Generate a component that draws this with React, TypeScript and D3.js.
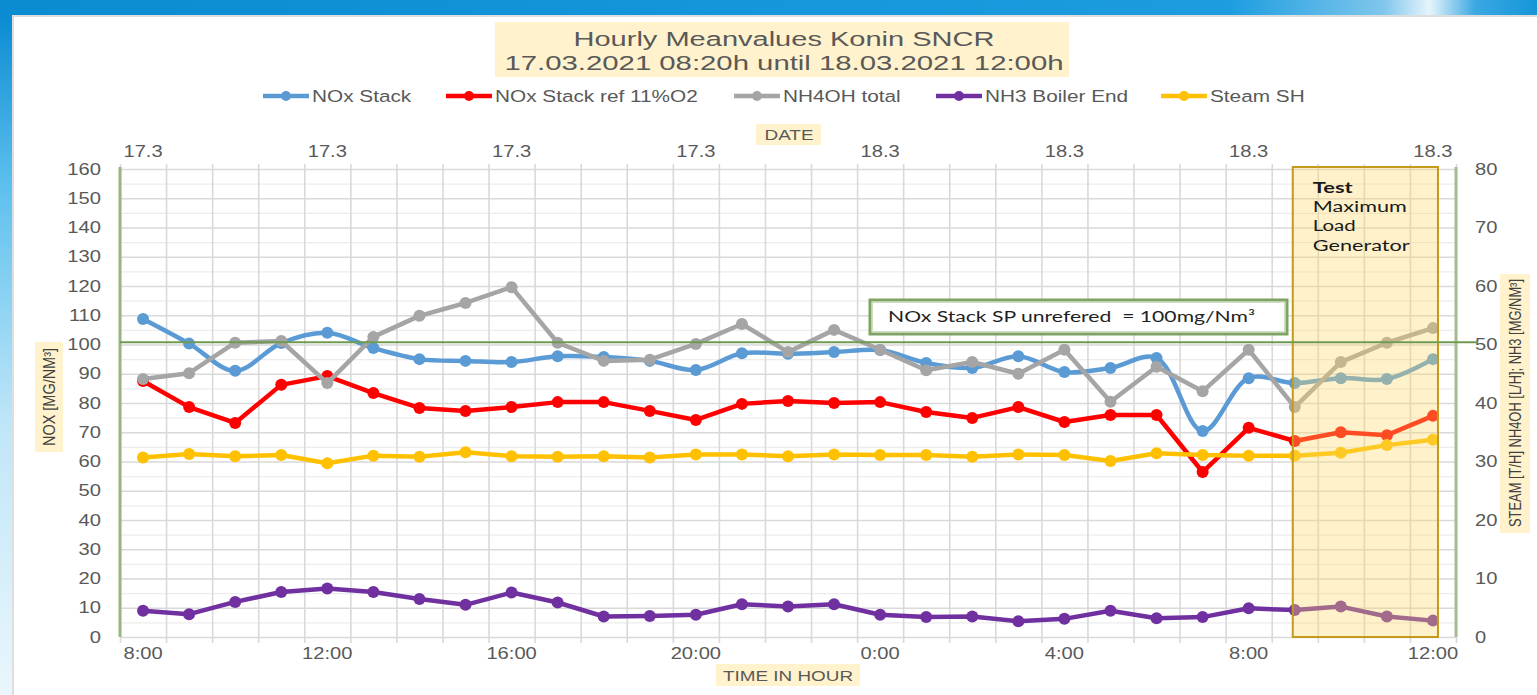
import * as d3 from "d3";
import { useEffect, useRef } from "react";

// categories (hourly, 17.03 08:00 .. 18.03 12:00)
const hours = [
  "8:00", "9:00", "10:00", "11:00", "12:00", "13:00", "14:00", "15:00",
  "16:00", "17:00", "18:00", "19:00", "20:00", "21:00", "22:00", "23:00",
  "0:00", "1:00", "2:00", "3:00", "4:00", "5:00", "6:00", "7:00",
  "8:00", "9:00", "10:00", "11:00", "12:00",
];
const dateLabels = ["17.3", "17.3", "17.3", "17.3", "18.3", "18.3", "18.3", "18.3"];

// left axis series [mg/Nm3]
const noxStack = [
  108.7, 100.3, 91, 100.5, 104, 98.8, 95, 94.4, 94, 96, 95.7, 94.4, 91.3, 97,
  96.8, 97.4, 98.1, 93.7, 92, 96, 90.6, 92, 95.4, 70.4, 88.5, 86.8, 88.5, 88.2, 95,
];
const noxRef = [
  87.5, 78.6, 73.2, 86.2, 89.2, 83.4, 78.3, 77.3, 78.6, 80.3, 80.3, 77.3, 74.2,
  79.7, 80.7, 80, 80.3, 76.9, 74.9, 78.6, 73.5, 75.9, 75.9, 56.4, 71.5, 67, 70, 69, 75.6,
];
// right axis series
const nh4oh = [
  44.1, 45.1, 50.3, 50.6, 43.4, 51.3, 54.9, 57.1, 59.8, 50.3, 47.2, 47.4, 50.1,
  53.5, 48.7, 52.5, 49.1, 45.6, 47, 45, 49.1, 40.2, 46.2, 42, 49.1, 39.3, 47, 50.3, 52.8,
];
const nh3 = [
  4.5, 3.9, 6, 7.7, 8.3, 7.7, 6.5, 5.5, 7.6, 5.9, 3.5, 3.6, 3.8, 5.6, 5.2, 5.6,
  3.8, 3.4, 3.5, 2.7, 3.1, 4.5, 3.2, 3.4, 4.9, 4.6, 5.2, 3.5, 2.8,
];
const steam = [
  30.7, 31.3, 30.9, 31.1, 29.7, 31, 30.8, 31.6, 30.9, 30.8, 30.9, 30.7, 31.2,
  31.2, 30.9, 31.2, 31.1, 31.1, 30.8, 31.2, 31.1, 30.1, 31.4, 31.1, 31, 31, 31.5, 32.8, 33.7,
];

const leftTicks = [0, 10, 20, 30, 40, 50, 60, 70, 80, 90, 100, 110, 120, 130, 140, 150, 160];
const rightTicks = [0, 10, 20, 30, 40, 50, 60, 70, 80];
const spLevel = 100.8;
const testFrom = 25;
const testTo = 28;

const W = 1537;
const H = 695;
const SX = 1.26; // screenshot is stretched horizontally
const FONT = "'Liberation Sans', Arial, sans-serif";
const CAL = "Lato, 'Open Sans', sans-serif";

export default function App() {
  const ref = useRef<SVGSVGElement | null>(null);

  useEffect(() => {
    const svg = d3.select(ref.current);
    svg.selectAll("*").remove();

    const L = 120, R = 1456, T = 169, B = 637;

    const defs = svg.append("defs");
    const gTop = defs.append("linearGradient").attr("id", "topBand");
    gTop.append("stop").attr("offset", "0%").attr("stop-color", "#0a8bd2");
    gTop.append("stop").attr("offset", "80%").attr("stop-color", "#1d9de0");
    gTop.append("stop").attr("offset", "90%").attr("stop-color", "#7fc6ec");
    gTop.append("stop").attr("offset", "93%").attr("stop-color", "#e6f4fb");
    gTop.append("stop").attr("offset", "96%").attr("stop-color", "#3aa8e2");
    gTop.append("stop").attr("offset", "100%").attr("stop-color", "#1596d8");
    const gLeft = defs
      .append("linearGradient")
      .attr("id", "leftBand")
      .attr("x1", "0%").attr("y1", "0%").attr("x2", "0%").attr("y2", "100%");
    gLeft.append("stop").attr("offset", "0%").attr("stop-color", "#0a8bd2");
    gLeft.append("stop").attr("offset", "25%").attr("stop-color", "#5dc0ee");
    gLeft.append("stop").attr("offset", "60%").attr("stop-color", "#bfe6f8");
    gLeft.append("stop").attr("offset", "100%").attr("stop-color", "#eaf6fc");

    svg.append("rect").attr("width", W).attr("height", H).attr("fill", "#fff");
    svg.append("rect").attr("width", W).attr("height", 15).attr("fill", "url(#topBand)");
    svg.append("rect").attr("y", 15).attr("width", 12).attr("height", H - 15).attr("fill", "url(#leftBand)");
    svg
      .append("path")
      .attr("d", `M13,${H} V16 H${W}`)
      .attr("fill", "none")
      .attr("stroke", "#d4d4d4")
      .attr("stroke-width", 1.5);

    // text helper
    const label = (
      parent: d3.Selection<any, unknown, null, undefined>,
      x: number,
      y: number,
      str: string,
      o: { size: number; anchor?: string; fill?: string; weight?: string; family?: string; len?: number; rotate?: boolean },
    ) => {
      let tr = `translate(${x},${y})`;
      if (o.rotate) tr += ` scale(${SX},1) rotate(-90)`;
      else if (!o.len) tr += ` scale(${SX},1)`;
      const t = parent
        .append("text")
        .attr("transform", tr)
        .attr("text-anchor", o.anchor ?? "start")
        .attr("font-family", o.family ?? FONT)
        .attr("font-size", o.size)
        .attr("font-weight", o.weight ?? "normal")
        .attr("fill", o.fill ?? "#595959")
        .style("white-space", "pre")
        .text(str);
      if (o.len) t.attr("textLength", o.len).attr("lengthAdjust", "spacingAndGlyphs");
      return t;
    };

    // ===== Title =====
    svg.append("rect").attr("x", 495).attr("y", 22).attr("width", 574).attr("height", 55).attr("fill", "#fff2cc");
    label(svg, 784, 46, "Hourly Meanvalues Konin SNCR", { size: 20, anchor: "middle", len: 421 });
    label(svg, 784, 70, "17.03.2021 08:20h until 18.03.2021 12:00h", { size: 20, anchor: "middle", len: 559 });

    // ===== Scales =====
    const x = d3.scaleBand<number>().domain(d3.range(hours.length)).range([L, R]).padding(0);
    const xb = d3.scaleLinear().domain([0, hours.length]).range([L, R]);
    const cx = (i: number) => x(i)! + x.bandwidth() / 2;
    const yL = d3.scaleLinear().domain([0, 160]).range([B, T]);
    const yR = d3.scaleLinear().domain([0, 80]).range([B, T]);

    // ===== Grid =====
    const minor = d3.range(5, 160, 10);
    const hMinor = svg
      .append("g")
      .attr("transform", `translate(${L},0)`)
      .call(d3.axisLeft(yL).tickValues(minor).tickSize(-(R - L)).tickFormat(() => ""));
    hMinor.select(".domain").remove();
    hMinor.selectAll("line").attr("stroke", "#ececec").attr("stroke-width", 1.2);

    const hMajor = svg
      .append("g")
      .attr("transform", `translate(${L},0)`)
      .call(d3.axisLeft(yL).tickValues(leftTicks).tickSize(-(R - L)).tickFormat(() => ""));
    hMajor.select(".domain").remove();
    hMajor.selectAll("line").attr("stroke", "#d9d9d9").attr("stroke-width", 1.6);

    const vGrid = svg
      .append("g")
      .attr("transform", `translate(0,${B + 6})`)
      .call(d3.axisBottom(xb).tickValues(d3.range(hours.length + 1)).tickSize(-(B + 6 - (T - 5))).tickFormat(() => ""));
    vGrid.select(".domain").remove();
    vGrid.selectAll("line").attr("stroke", "#d9d9d9").attr("stroke-width", 1.6);

    // ===== Axes labels =====
    const styleAxis = (g: d3.Selection<SVGGElement, unknown, null, undefined>) => {
      g.select(".domain").remove();
      g.attr("font-family", FONT).attr("font-size", 16);
      g.selectAll("text").attr("fill", "#595959");
    };

    const axL = svg
      .append("g")
      .attr("transform", `translate(${L},0)`)
      .call(d3.axisLeft(yL).tickValues(leftTicks).tickSize(0));
    styleAxis(axL);
    axL.selectAll("text").attr("x", null).attr("transform", `translate(-19,0) scale(${SX},1)`);

    const axR = svg
      .append("g")
      .attr("transform", `translate(${R},0)`)
      .call(d3.axisRight(yR).tickValues(rightTicks).tickSize(0));
    styleAxis(axR);
    axR.selectAll("text").attr("x", null).attr("transform", `translate(19,0) scale(${SX},1)`);

    const labelIdx = d3.range(0, hours.length, 4);
    const axB = svg
      .append("g")
      .attr("transform", `translate(0,${B})`)
      .call(d3.axisBottom(x).tickValues(labelIdx).tickSize(0).tickFormat((i) => hours[i as number]));
    styleAxis(axB);
    axB.selectAll("text").attr("y", null).attr("dy", null).attr("transform", `translate(0,22) scale(${SX},1)`);

    const axT = svg
      .append("g")
      .attr("transform", `translate(0,${T})`)
      .call(d3.axisTop(x).tickValues(labelIdx).tickSize(0).tickFormat((i) => dateLabels[(i as number) / 4]));
    styleAxis(axT);
    axT.selectAll("text").attr("y", null).attr("dy", null).attr("transform", `translate(0,-12) scale(${SX},1)`);

    // axis lines
    svg.append("line").attr("x1", L).attr("x2", L).attr("y1", T - 2).attr("y2", B)
      .attr("stroke", "#9ab585").attr("stroke-width", 3);
    svg.append("line").attr("x1", R).attr("x2", R).attr("y1", T - 2).attr("y2", B)
      .attr("stroke", "#a6bd94").attr("stroke-width", 3);

    // axis titles
    svg.append("rect").attr("x", 756).attr("y", 124).attr("width", 65).attr("height", 21).attr("fill", "#fff2cc");
    label(svg, 789, 140, "DATE", { size: 15, anchor: "middle" });
    svg.append("rect").attr("x", 716).attr("y", 664).attr("width", 144).attr("height", 22).attr("fill", "#fff2cc");
    label(svg, 788, 681, "TIME IN HOUR", { size: 15, anchor: "middle" });
    svg.append("rect").attr("x", 35).attr("y", 342).attr("width", 28).attr("height", 110).attr("fill", "#fff2cc");
    label(svg, 55, 397, "NOX [MG/NM³]", { size: 13, anchor: "middle", rotate: true, len: 98, fill: "#404040" });
    svg.append("rect").attr("x", 1500).attr("y", 274).attr("width", 30).attr("height", 259).attr("fill", "#fff2cc");
    label(svg, 1521, 403, "STEAM [T/H] NH4OH [L/H]; NH3 [MG/NM³]", {
      size: 13, anchor: "middle", rotate: true, len: 248, fill: "#404040",
    });

    // ===== Series =====
    const series = [
      { name: "NOx Stack", values: noxStack, y: yL, color: "#5b9bd5", curve: d3.curveCatmullRom.alpha(0.5) },
      { name: "NOx Stack ref 11%O2", values: noxRef, y: yL, color: "#ff0000", curve: d3.curveLinear },
      { name: "NH4OH total", values: nh4oh, y: yR, color: "#a5a5a5", curve: d3.curveLinear },
      { name: "NH3 Boiler End", values: nh3, y: yR, color: "#7030a0", curve: d3.curveLinear },
      { name: "Steam SH", values: steam, y: yR, color: "#ffc000", curve: d3.curveLinear },
    ];

    series.forEach((s) => {
      const line = d3
        .line<number>()
        .x((_, i) => cx(i))
        .y((d) => s.y(d))
        .curve(s.curve);
      const gs = svg.append("g");
      gs.append("path")
        .attr("d", line(s.values))
        .attr("fill", "none")
        .attr("stroke", s.color)
        .attr("stroke-width", 4.5)
        .attr("stroke-linejoin", "round");
      gs.selectAll("circle")
        .data(s.values)
        .enter()
        .append("circle")
        .attr("cx", (_, i) => cx(i))
        .attr("cy", (d) => s.y(d))
        .attr("r", 6)
        .attr("fill", s.color);
    });

    // ===== Legend =====
    const legendX = [263, 446, 734, 936, 1161];
    series.forEach((s, i) => {
      const lx = legendX[i];
      svg.append("line").attr("x1", lx).attr("x2", lx + 46).attr("y1", 96).attr("y2", 96)
        .attr("stroke", s.color).attr("stroke-width", 4.5);
      svg.append("circle").attr("cx", lx + 23).attr("cy", 96).attr("r", 5).attr("fill", s.color);
      label(svg, lx + 49, 102, s.name, { size: 16.5 });
    });

    // ===== Test box =====
    const bx0 = cx(testFrom) - 2;
    const bx1 = cx(testTo) + 5;
    svg.append("rect")
      .attr("x", bx0).attr("y", T - 2)
      .attr("width", bx1 - bx0).attr("height", B - (T - 2))
      .attr("fill", "#ffd966").attr("fill-opacity", 0.35)
      .attr("stroke", "#c49a1c").attr("stroke-width", 2);
    const tl = [
      { t: "Test", w: 40, bold: true },
      { t: "Maximum", w: 94, bold: false },
      { t: "Load", w: 43, bold: false },
      { t: "Generator", w: 97, bold: false },
    ];
    tl.forEach((d, i) => {
      label(svg, bx0 + 20, 193 + i * 19.2, d.t, {
        size: 14.5, family: CAL, fill: "#1a1a1a", weight: d.bold ? "bold" : "normal", len: d.w,
      });
    });

    // ===== SP line & note =====
    svg.append("line")
      .attr("x1", L).attr("x2", 1478)
      .attr("y1", yL(spLevel)).attr("y2", yL(spLevel))
      .attr("stroke", "#6f9a52").attr("stroke-width", 2);
    svg.append("rect").attr("x", 870).attr("y", 300).attr("width", 417).attr("height", 34)
      .attr("fill", "#fff").attr("stroke", "#7fa362").attr("stroke-width", 3);
    svg.append("rect").attr("x", 872.5).attr("y", 302.5).attr("width", 412).attr("height", 29)
      .attr("fill", "none").attr("stroke", "#cfe0c2").attr("stroke-width", 1);
    label(svg, 888, 322, "NOx Stack SP unrefered  = 100mg/Nm³", {
      size: 15.5, family: CAL, fill: "#1f1f1f", len: 367,
    });
  }, []);

  return (
    <svg
      ref={ref}
      width={W}
      height={H}
      style={{ position: "absolute", left: 0, top: 0, display: "block" }}
    >
      <title>Hourly Meanvalues Konin SNCR</title>
    </svg>
  );
}
